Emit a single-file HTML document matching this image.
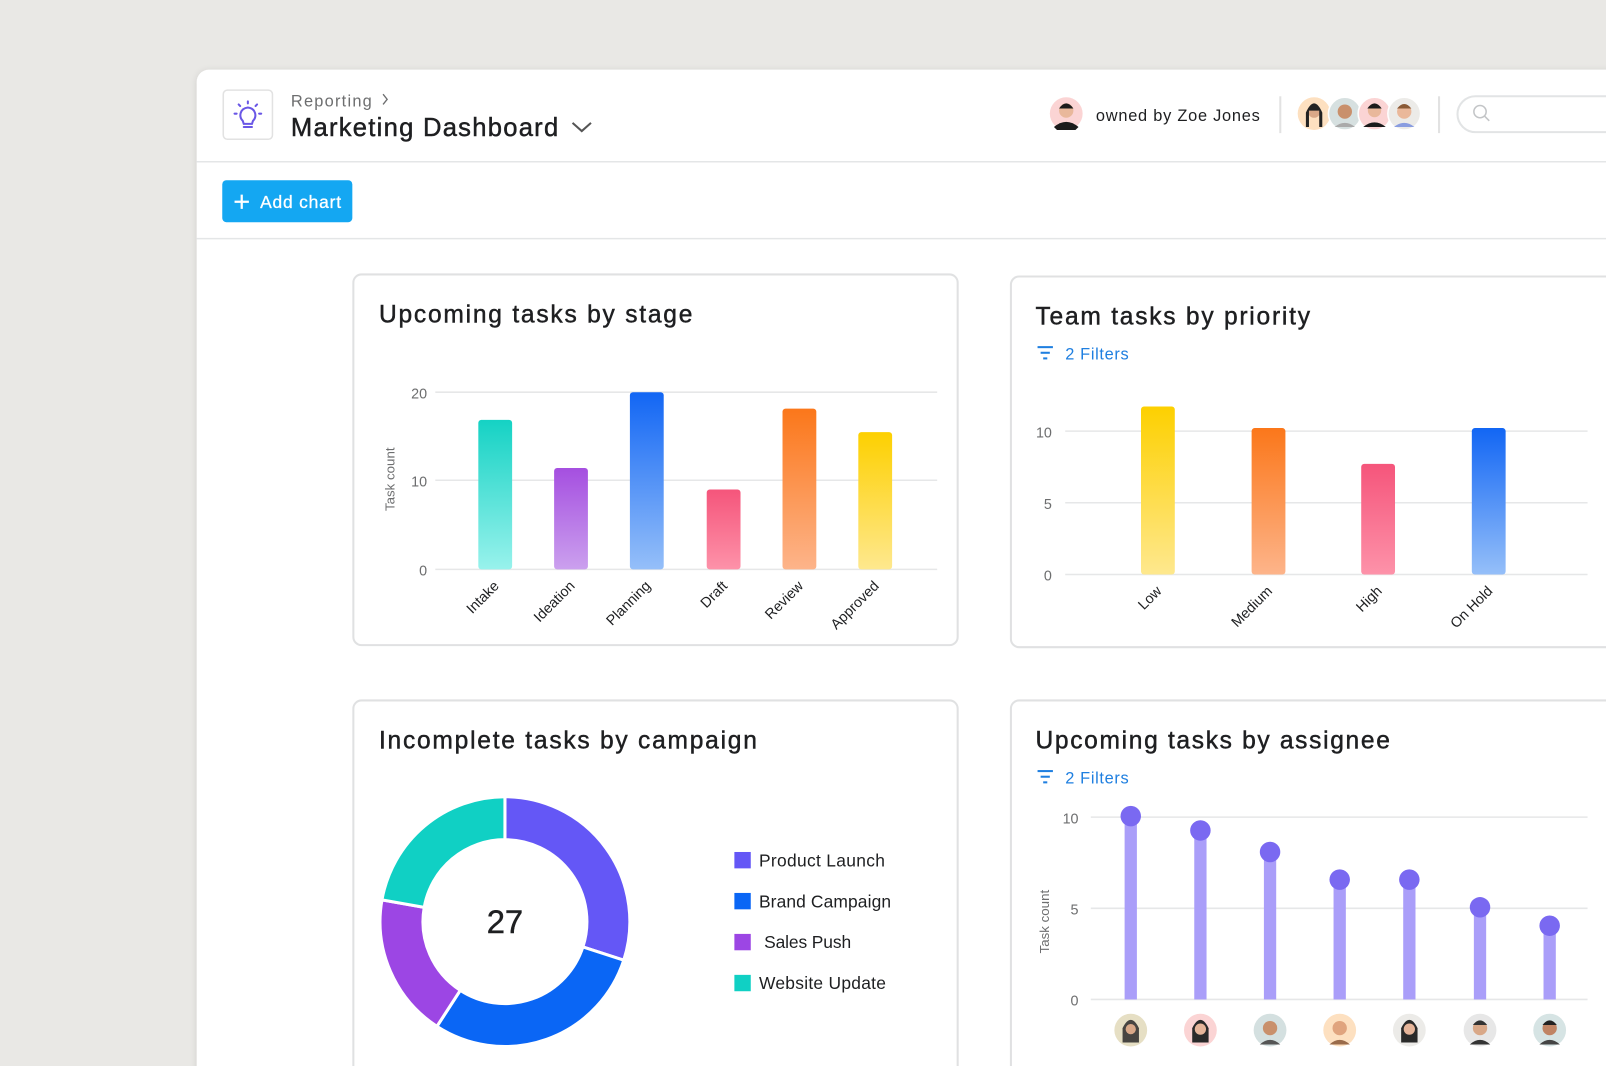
<!DOCTYPE html>
<html><head><meta charset="utf-8"><style>
html,body{margin:0;padding:0;background:#e9e8e5;}
svg{display:block;font-family:"Liberation Sans",sans-serif;}
.t{stroke:#1e1f21;stroke-width:0.45;}
</style></head><body>
<svg width="1606" height="1066" viewBox="0 0 1568 1041" preserveAspectRatio="none">
<defs>
<linearGradient id="gt" x1="0" y1="0" x2="0" y2="1"><stop offset="0" stop-color="#15d2c4"/><stop offset="1" stop-color="#98f2ec"/></linearGradient>
<linearGradient id="gp" x1="0" y1="0" x2="0" y2="1"><stop offset="0" stop-color="#a54fe0"/><stop offset="1" stop-color="#cba0ee"/></linearGradient>
<linearGradient id="gb" x1="0" y1="0" x2="0" y2="1"><stop offset="0" stop-color="#1266f4"/><stop offset="1" stop-color="#95bff9"/></linearGradient>
<linearGradient id="gk" x1="0" y1="0" x2="0" y2="1"><stop offset="0" stop-color="#f5557b"/><stop offset="1" stop-color="#fd92a9"/></linearGradient>
<linearGradient id="go" x1="0" y1="0" x2="0" y2="1"><stop offset="0" stop-color="#fb771a"/><stop offset="1" stop-color="#fdb48a"/></linearGradient>
<linearGradient id="gy" x1="0" y1="0" x2="0" y2="1"><stop offset="0" stop-color="#fdd000"/><stop offset="1" stop-color="#fee88e"/></linearGradient>
<filter id="sh" x="-5%" y="-5%" width="110%" height="110%"><feDropShadow dx="0" dy="1" stdDeviation="3" flood-color="#000" flood-opacity="0.12"/></filter>
</defs>
<rect width="1568" height="1041" fill="#e9e8e5"/>
<rect x="192" y="68" width="1400" height="1000" rx="12" fill="#fff" filter="url(#sh)"/>
<!-- header -->
<rect x="218" y="88" width="48" height="48" rx="4" fill="#fff" stroke="#e2e2e2" stroke-width="1.5"/>
<g stroke="#6a57e6" stroke-width="2" fill="none" stroke-linecap="round">
<path d="M237 118 C233 114 234 106 242 105 C250 106 251 114 247 118 L246 121 L238 121 Z"/>
<line x1="238" y1="124" x2="246" y2="124"/>
<line x1="242" y1="99" x2="242" y2="101"/><line x1="233" y1="102" x2="234.5" y2="103.5"/><line x1="251" y1="102" x2="249.5" y2="103.5"/>
<line x1="229" y1="111" x2="231" y2="111"/><line x1="253" y1="111" x2="255" y2="111"/>
</g>
<text x="284" y="104" font-size="16" fill="#6d6e6f" textLength="79">Reporting</text>
<path d="M374 92 L378 97 L374 102" stroke="#6d6e6f" stroke-width="1.3" fill="none"/>
<text x="284" y="133" font-size="25" fill="#1e1f21" textLength="261" class="t">Marketing Dashboard</text>
<path d="M559 120 L568 128 L577 120" stroke="#555" stroke-width="2" fill="none"/>
<line x1="192" y1="158" x2="1568" y2="158" stroke="#e4e6e7" stroke-width="1.5"/>
<circle cx="1041" cy="111" r="16" fill="#fbd4d4"/><circle cx="1041" cy="108" r="7" fill="#e9b89b"/><path d="M1034 106 Q1041 96 1048 106 Z" fill="#1b1b1b"/><path d="M1029 124 Q1041 114 1053 124 L1050 127 L1032 127Z" fill="#1b1b1b"/>
<text x="1070" y="118" font-size="16" fill="#1e1f21" textLength="160">owned by Zoe Jones</text>
<line x1="1250" y1="94" x2="1250" y2="130" stroke="#e2e2e2" stroke-width="2"/>
<g>
<circle cx="1283" cy="111" r="16" fill="#fde0c0"/><circle cx="1283" cy="109" r="6" fill="#d9a888"/><path d="M1275 110 Q1283 92 1291 110 L1291 124 L1288 124 L1288 108 L1278 108 L1278 124 L1275 124Z" fill="#222"/>
<circle cx="1313" cy="111" r="16" fill="#d6e0e0" stroke="#fff" stroke-width="1.5"/><circle cx="1313" cy="109" r="7" fill="#c9906c"/><path d="M1303 124 Q1313 116 1323 124Z" fill="#aaa"/>
<circle cx="1342" cy="111" r="16" fill="#fbd4d4" stroke="#fff" stroke-width="1.5"/><circle cx="1342" cy="108" r="6.5" fill="#e9b89b"/><path d="M1335 106 Q1342 96 1349 106 Z" fill="#1b1b1b"/><path d="M1331 124 Q1342 115 1353 124Z" fill="#1b1b1b"/>
<circle cx="1371" cy="111" r="16" fill="#ecebe8" stroke="#fff" stroke-width="1.5"/><circle cx="1371" cy="109" r="7" fill="#eab89a"/><path d="M1364 106 Q1371 97 1378 106Z" fill="#8a5a36"/><path d="M1361 124 Q1371 116 1381 124Z" fill="#8a9de0"/>
</g>
<line x1="1405" y1="94" x2="1405" y2="130" stroke="#e2e2e2" stroke-width="2"/>
<rect x="1423" y="94" width="170" height="35" rx="17.5" fill="#fff" stroke="#e2e4e5" stroke-width="2"/>
<circle cx="1445" cy="109" r="6" fill="none" stroke="#c3c5c7" stroke-width="1.5"/><line x1="1449.5" y1="113.5" x2="1454" y2="118" stroke="#c3c5c7" stroke-width="1.5"/>
<rect x="217" y="176" width="127" height="41" rx="4" fill="#14a7f2"/>
<path d="M236 190 V204 M229 197 H243" stroke="#fff" stroke-width="2.2"/>
<text x="254" y="203" font-size="17" fill="#fff" textLength="79" style="stroke:#fff;stroke-width:0.3">Add chart</text>
<line x1="192" y1="233" x2="1568" y2="233" stroke="#e4e6e7" stroke-width="1.5"/>

<!-- card 1 -->
<rect x="345" y="268" width="590" height="362" rx="8" fill="#fff" stroke="#e0e1e2" stroke-width="2"/>
<text x="370" y="315" font-size="24" fill="#1e1f21" textLength="306" class="t">Upcoming tasks by stage</text>
<g stroke="#e6e7e8" stroke-width="1.5"><line x1="425" y1="383" x2="915" y2="383"/><line x1="425" y1="469" x2="915" y2="469"/><line x1="425" y1="556" x2="915" y2="556"/></g>
<g font-size="14" fill="#6d6e6f" text-anchor="end"><text x="417" y="389">20</text><text x="417" y="475">10</text><text x="417" y="562">0</text></g>
<text transform="translate(385,468) rotate(-90)" font-size="13" fill="#6d6e6f" text-anchor="middle">Task count</text>
<rect x="467" y="410" width="33" height="146" rx="3" fill="url(#gt)"/>
<rect x="541" y="457" width="33" height="99" rx="3" fill="url(#gp)"/>
<rect x="615" y="383" width="33" height="173" rx="3" fill="url(#gb)"/>
<rect x="690" y="478" width="33" height="78" rx="3" fill="url(#gk)"/>
<rect x="764" y="399" width="33" height="157" rx="3" fill="url(#go)"/>
<rect x="838" y="422" width="33" height="134" rx="3" fill="url(#gy)"/>
<g font-size="14" fill="#1e1f21" text-anchor="end">
<text transform="translate(488,573) rotate(-45)">Intake</text>
<text transform="translate(562,573) rotate(-45)">Ideation</text>
<text transform="translate(636,573) rotate(-45)">Planning</text>
<text transform="translate(711,573) rotate(-45)">Draft</text>
<text transform="translate(785,573) rotate(-45)">Review</text>
<text transform="translate(859,573) rotate(-45)">Approved</text>
</g>

<!-- card 2 -->
<rect x="987" y="270" width="620" height="362" rx="8" fill="#fff" stroke="#e0e1e2" stroke-width="2"/>
<text x="1011" y="317" font-size="24" fill="#1e1f21" textLength="268" class="t">Team tasks by priority</text>
<g stroke="#1f7fe0" stroke-width="2"><line x1="1013" y1="339" x2="1028" y2="339"/><line x1="1016" y1="344.5" x2="1025" y2="344.5"/><line x1="1018.5" y1="350" x2="1022.5" y2="350"/></g>
<text x="1040" y="351" font-size="16" fill="#1f7fe0" textLength="62">2 Filters</text>
<g stroke="#e6e7e8" stroke-width="1.5"><line x1="1040" y1="421" x2="1550" y2="421"/><line x1="1040" y1="491" x2="1550" y2="491"/><line x1="1040" y1="561" x2="1550" y2="561"/></g>
<g font-size="14" fill="#6d6e6f" text-anchor="end"><text x="1027" y="427">10</text><text x="1027" y="497">5</text><text x="1027" y="567">0</text></g>
<rect x="1114" y="397" width="33" height="164" rx="3" fill="url(#gy)"/>
<rect x="1222" y="418" width="33" height="143" rx="3" fill="url(#go)"/>
<rect x="1329" y="453" width="33" height="108" rx="3" fill="url(#gk)"/>
<rect x="1437" y="418" width="33" height="143" rx="3" fill="url(#gb)"/>
<g font-size="14" fill="#1e1f21" text-anchor="end">
<text transform="translate(1135,578) rotate(-45)">Low</text>
<text transform="translate(1243,578) rotate(-45)">Medium</text>
<text transform="translate(1350,578) rotate(-45)">High</text>
<text transform="translate(1458,578) rotate(-45)">On Hold</text>
</g>

<!-- card 3 -->
<rect x="345" y="684" width="590" height="400" rx="8" fill="#fff" stroke="#e0e1e2" stroke-width="2"/>
<text x="370" y="731" font-size="24" fill="#1e1f21" textLength="369" class="t">Incomplete tasks by campaign</text>
<g stroke="#fff" stroke-width="3">
<path d="M493 778 A122 122 0 0 1 609 937.7 L569.1 924.7 A80 80 0 0 0 493 820 Z" fill="#6457f6"/>
<path d="M609 937.7 A122 122 0 0 1 426.6 1002.3 L449.4 967.1 A80 80 0 0 0 569.1 924.7 Z" fill="#0a66f5"/>
<path d="M426.6 1002.3 A122 122 0 0 1 372.9 878.8 L414.2 886.1 A80 80 0 0 0 449.4 967.1 Z" fill="#9c46e4"/>
<path d="M372.9 878.8 A122 122 0 0 1 493 778 L493 820 A80 80 0 0 0 414.2 886.1 Z" fill="#10d0c4"/>
</g>
<text x="493" y="911" font-size="32" fill="#1e1f21" text-anchor="middle" class="t">27</text>
<rect x="717" y="832" width="16" height="16" fill="#6457f6"/><text x="741" y="846" font-size="17" fill="#1e1f21" textLength="123">Product Launch</text>
<rect x="717" y="872" width="16" height="16" fill="#0a66f5"/><text x="741" y="886" font-size="17" fill="#1e1f21" textLength="129">Brand Campaign</text>
<rect x="717" y="912" width="16" height="16" fill="#9c46e4"/><text x="746" y="926" font-size="17" fill="#1e1f21" textLength="85">Sales Push</text>
<rect x="717" y="952" width="16" height="16" fill="#10d0c4"/><text x="741" y="966" font-size="17" fill="#1e1f21" textLength="124">Website Update</text>

<!-- card 4 -->
<rect x="987" y="684" width="620" height="400" rx="8" fill="#fff" stroke="#e0e1e2" stroke-width="2"/>
<text x="1011" y="731" font-size="24" fill="#1e1f21" textLength="346" class="t">Upcoming tasks by assignee</text>
<g stroke="#1f7fe0" stroke-width="2"><line x1="1013" y1="753" x2="1028" y2="753"/><line x1="1016" y1="758.5" x2="1025" y2="758.5"/><line x1="1018.5" y1="764" x2="1022.5" y2="764"/></g>
<text x="1040" y="765" font-size="16" fill="#1f7fe0" textLength="62">2 Filters</text>
<g stroke="#e6e7e8" stroke-width="1.5"><line x1="1065" y1="798" x2="1550" y2="798"/><line x1="1065" y1="887" x2="1550" y2="887"/><line x1="1065" y1="976" x2="1550" y2="976"/></g>
<g font-size="14" fill="#6d6e6f" text-anchor="end"><text x="1053" y="804">10</text><text x="1053" y="893">5</text><text x="1053" y="982">0</text></g>
<text transform="translate(1024,900) rotate(-90)" font-size="13" fill="#6d6e6f" text-anchor="middle">Task count</text>
<g fill="#aa9ef9">
<rect x="1098" y="797" width="12" height="179"/><rect x="1166" y="811" width="12" height="165"/><rect x="1234" y="832" width="12" height="144"/><rect x="1302" y="859" width="12" height="117"/><rect x="1370" y="859" width="12" height="117"/><rect x="1439" y="886" width="12" height="90"/><rect x="1507" y="904" width="12" height="72"/>
</g>
<g fill="#7a69f1">
<circle cx="1104" cy="797" r="10"/><circle cx="1172" cy="811" r="10"/><circle cx="1240" cy="832" r="10"/><circle cx="1308" cy="859" r="10"/><circle cx="1376" cy="859" r="10"/><circle cx="1445" cy="886" r="10"/><circle cx="1513" cy="904" r="10"/>
</g>
<g>
<circle cx="1104" cy="1006" r="16" fill="#e6dfc4"/><path d="M1096 1004 Q1104 988 1112 1004 L1112 1018 L1096 1018Z" fill="#2a2a2a" opacity="0.85"/><circle cx="1104" cy="1005" r="5" fill="#d8a888"/>
<circle cx="1172" cy="1006" r="16" fill="#fbd4d4"/><path d="M1164 1004 Q1172 988 1180 1004 L1180 1018 L1164 1018Z" fill="#2a2a2a"/><circle cx="1172" cy="1005" r="5.5" fill="#e6b59a"/>
<circle cx="1240" cy="1006" r="16" fill="#d4e0e0"/><circle cx="1240" cy="1004" r="7" fill="#c9906c"/><path d="M1230 1020 Q1240 1011 1250 1020Z" fill="#555"/>
<circle cx="1308" cy="1006" r="16" fill="#fde0c0"/><circle cx="1308" cy="1004" r="7" fill="#e0a47e"/><path d="M1298 1020 Q1308 1011 1318 1020Z" fill="#9a6b4a"/>
<circle cx="1376" cy="1006" r="16" fill="#ecebe8"/><path d="M1368 1004 Q1376 988 1384 1004 L1384 1018 L1368 1018Z" fill="#2a2a2a"/><circle cx="1376" cy="1005" r="5.5" fill="#e6b59a"/>
<circle cx="1445" cy="1006" r="16" fill="#e7e7e7"/><circle cx="1445" cy="1004" r="7" fill="#d9a888"/><path d="M1438 1001 Q1445 992 1452 1001Z" fill="#333"/><path d="M1435 1020 Q1445 1011 1455 1020Z" fill="#333"/>
<circle cx="1513" cy="1006" r="16" fill="#d6e4e4"/><circle cx="1513" cy="1004" r="7" fill="#c08464"/><path d="M1506 1001 Q1513 992 1520 1001Z" fill="#222"/><path d="M1503 1020 Q1513 1011 1523 1020Z" fill="#444"/>
</g>
</svg>
</body></html>
